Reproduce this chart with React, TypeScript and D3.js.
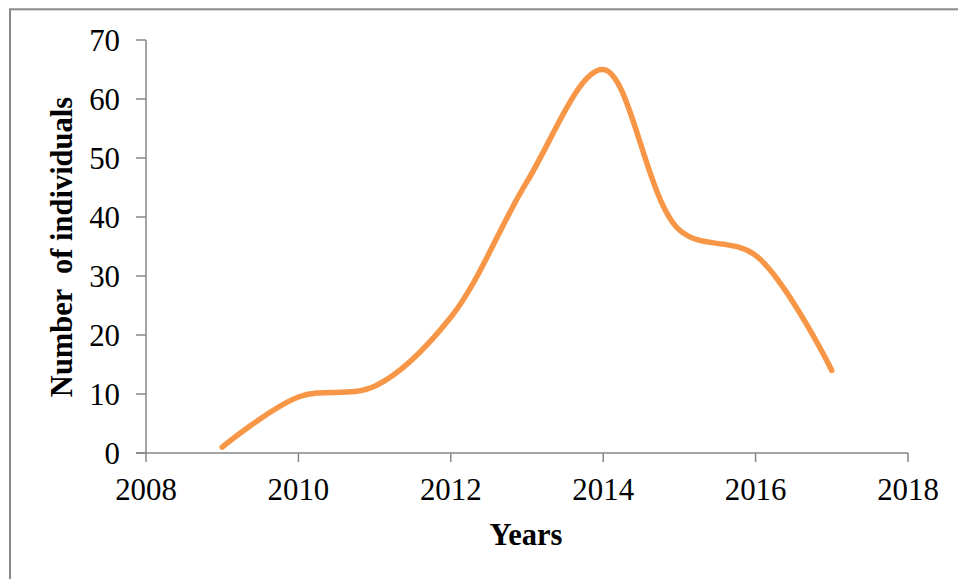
import React from "react";
import * as d3 from "d3";

const years = [2009, 2010, 2011, 2012, 2013, 2014, 2015, 2016, 2017];
const individuals = [1, 9.5, 11.3, 23, 46, 65, 37.8, 33.5, 14];
const xTicks = [2008, 2010, 2012, 2014, 2016, 2018];
const yTicks = [0, 10, 20, 30, 40, 50, 60, 70];

const W = 958;
const H = 579;
const FONT = "'Liberation Serif', 'Times New Roman', serif";
const AXIS = "#868686";
const TICK_FS = 32.5;
const SX = 0.95;

export default function App() {
  const x = d3.scaleLinear().domain([2008, 2018]).range([146, 908]);
  const y = d3.scaleLinear().domain([0, 70]).range([453, 40]);
  const line = d3
    .line<number>()
    .x((_, i) => x(years[i]))
    .y((d) => y(d))
    .curve(d3.curveCatmullRom.alpha(0.5));
  const path = line(individuals) || "";

  return (
    <svg
      width={W}
      height={H}
      style={{ position: "absolute", left: 0, top: 0, background: "#fff" }}
    >
      <rect x={10} y={9.3} width={W + 20} height={H + 20} fill="none" stroke="#888" strokeWidth={2} />
      {/* y axis */}
      <line x1={x(2008)} x2={x(2008)} y1={y(70)} y2={y(0)} stroke={AXIS} strokeWidth={1.5} />
      {yTicks.map((t) => (
        <g key={"y" + t}>
          <line x1={x(2008) - 10} x2={x(2008)} y1={y(t)} y2={y(t)} stroke={AXIS} strokeWidth={1.5} />
          <text
            transform={`translate(120, ${y(t)}) scale(${SX}, 1)`}
            dy="0.35em"
            textAnchor="end"
            fontFamily={FONT}
            fontSize={TICK_FS}
            fill="#000"
          >
            {t}
          </text>
        </g>
      ))}
      {/* x axis */}
      <line x1={x(2008) - 10} x2={x(2018)} y1={y(0)} y2={y(0)} stroke={AXIS} strokeWidth={1.5} />
      {xTicks.map((t) => (
        <g key={"x" + t}>
          <line x1={x(t)} x2={x(t)} y1={y(0)} y2={y(0) + 9} stroke={AXIS} strokeWidth={1.5} />
          <text
            transform={`translate(${x(t)}, 500) scale(${SX}, 1)`}
            textAnchor="middle"
            fontFamily={FONT}
            fontSize={TICK_FS}
            fill="#000"
          >
            {t}
          </text>
        </g>
      ))}
      <text
        x={526}
        y={545}
        textAnchor="middle"
        fontFamily={FONT}
        fontSize={30.5}
        fontWeight="bold"
        fill="#000"
      >
        Years
      </text>
      <text
        transform={`translate(72, 247) rotate(-90)`}
        textAnchor="middle"
        fontFamily={FONT}
        fontSize={30.5}
        fontWeight="bold"
        fill="#000"
        style={{ whiteSpace: "pre" }}
      >
        {"Number  of individuals"}
      </text>
      <path d={path} fill="none" stroke="#F79646" strokeWidth={5.5} strokeLinecap="round" strokeLinejoin="round" />
    </svg>
  );
}
